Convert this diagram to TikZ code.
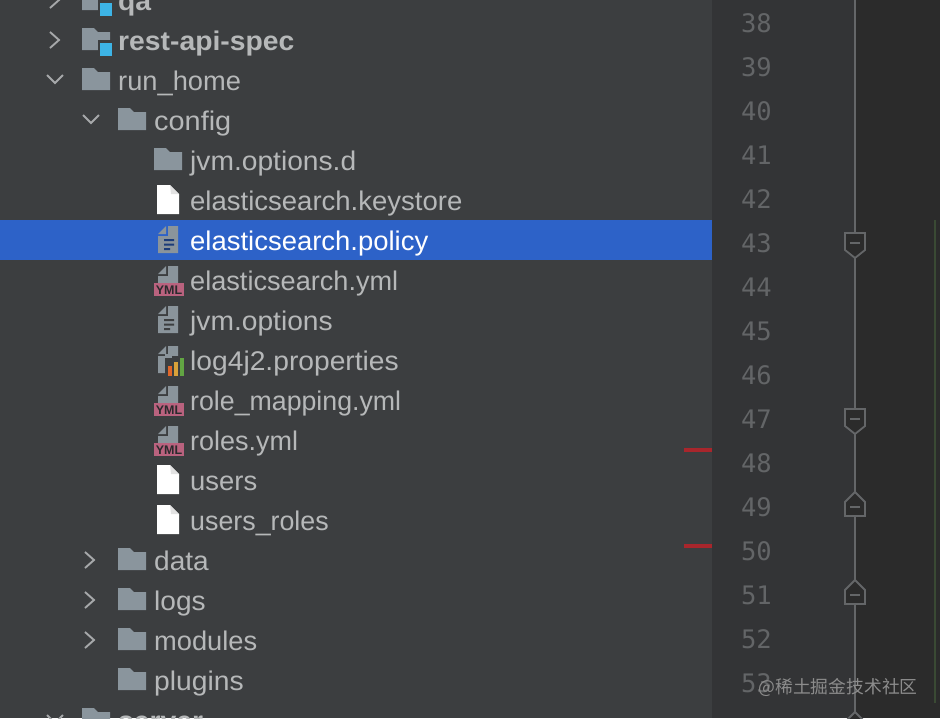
\documentclass[tikz,border=0pt]{standalone}
\usepackage{graphicx}
\usepackage{fontspec}
\setmainfont{Liberation Sans}
\newfontfamily\cjkfont{Noto Sans CJK SC}
\newfontfamily\numfont{DejaVu Sans Mono}
\definecolor{side}{HTML}{3C3E40}
\definecolor{gutter}{HTML}{333436}
\definecolor{editor}{HTML}{2B2B2B}
\definecolor{sel}{HTML}{2D62C8}
\definecolor{txt}{HTML}{B6B8B9}
\definecolor{folder}{HTML}{8A959D}
\definecolor{chev}{HTML}{A6A8AA}
\definecolor{filegr}{HTML}{8A949B}
\definecolor{ymlpink}{HTML}{B9627E}
\definecolor{numc}{HTML}{636567}
\definecolor{foldc}{HTML}{646668}
\definecolor{redm}{HTML}{A8262C}
\definecolor{greenm}{HTML}{3A4A34}
\definecolor{modblue}{HTML}{3DB4E6}
\definecolor{foldw}{HTML}{E2E2E2}
\definecolor{wmc}{HTML}{8C8C8C}
\tikzset{
  x=1pt,y=-1pt,
  rowtext/.style={anchor=base west,inner sep=0pt,text=txt,font=\fontsize{27}{30}\selectfont},
  boldtext/.style={rowtext,font=\fontsize{27}{30}\selectfont\bfseries},
  linenum/.style={anchor=base east,inner sep=0pt,text=numc,font=\fontsize{25.5}{28}\selectfont\numfont},
  chevron/.style={draw=chev,line width=1.9pt,line join=miter,line cap=butt},
  foldline/.style={draw=foldc,line width=2pt},
  foldmark/.style={draw=foldc,line width=1.8pt,fill=editor,line join=miter},
}
\newcommand{\sx}[2]{\scalebox{#1}[1]{#2}}
% #1 = x left, #2 = row centre y
\newcommand{\icofolder}[2]{\fill[folder] (#1,#2-12) -- (#1+12,#2-12) -- (#1+16,#2-8) -- (#1+28,#2-8) -- (#1+28,#2+10) -- (#1,#2+10) -- cycle;}
\newcommand{\icomodule}[2]{\icofolder{#1}{#2}\fill[side] (#1+16,#2+0) rectangle (#1+31,#2+17);\fill[modblue] (#1+18,#2+3) rectangle (#1+30,#2+16);}
\newcommand{\icowhite}[1]{\fill[white] (157,#1-15) -- (170,#1-15) -- (179,#1-6) -- (179,#1+14) -- (157,#1+14) -- cycle;\fill[foldw] (170,#1-15) -- (179,#1-6) -- (171,#1-6) -- cycle;}
\newcommand{\icodoc}[1]{\fill[filegr] (168,#1-14) -- (178,#1-14) -- (178,#1+13) -- (158,#1+13) -- (158,#1-4) -- (168,#1-4) -- cycle;\fill[filegr] (158,#1-6) -- (166,#1-14) -- (166,#1-6) -- cycle;}
\newcommand{\icotextlines}[2]{\fill[#2] (164,#1-1) rectangle (174,#1+1) (164,#1+3.5) rectangle (174,#1+5.5) (164,#1+8) rectangle (170,#1+10);}
\newcommand{\icoyml}[1]{\icodoc{#1}\fill[side] (153,#1+3) rectangle (185,#1+17);\fill[filegr] (158,#1+1) rectangle (178,#1+3);\fill[ymlpink] (154,#1+3) rectangle (184,#1+16);\node[anchor=center,inner sep=0pt,text=side!70!black,font=\fontsize{12.5}{13}\selectfont\bfseries] (yml#1) at (169,#1+9.7) {YML};}
\newcommand{\chevright}[2]{\draw[chevron] (#1,#2-8) -- (#1+9,#2) -- (#1,#2+8);}
\newcommand{\chevdown}[2]{\draw[chevron] (#1,#2-4) -- (#1+8,#2+4) -- (#1+16,#2-4);}
\newcommand{\markdown}[1]{\draw[foldmark] (845,#1) -- (865,#1) -- (865,#1+17) -- (855,#1+25) -- (845,#1+17) -- cycle;\draw[foldline] (850,#1+10) -- (860,#1+10);}
\newcommand{\markup}[1]{\draw[foldmark] (845,#1+24) -- (865,#1+24) -- (865,#1+10) -- (855,#1) -- (845,#1+10) -- cycle;\draw[foldline] (850,#1+15) -- (860,#1+15);}
\begin{document}
\begin{tikzpicture}
\clip (0,0) rectangle (940,718);
% backgrounds
\fill[side] (0,0) rectangle (712,718);
\fill[gutter] (712,0) rectangle (855,718);
\fill[editor] (855,0) rectangle (940,718);
\fill[sel] (0,220) rectangle (712,260);
% red marks and green line
\fill[redm] (684,448) rectangle (712,452);
\fill[redm] (684,544) rectangle (712,548);
\draw[greenm,line width=1.5pt] (935,220) -- (935,703);
% fold line and marks
\coordinate (foldtop) at (855,0);
\coordinate (foldbottom) at (855,718);
\draw[foldline] (foldtop) -- (foldbottom);
\markdown{233}
\markdown{409}
\markup{492}
\markup{580}
\markup{712}
% line numbers
\foreach \n/\y in {38/23,39/67,40/111,41/155,42/199,43/243,44/287,45/331,46/375,47/419,48/463,49/507,50/551,51/595,52/639,53/683}
  \node[linenum] (num\n) at (772,\y+9.5) {\n};
% tree rows
\chevright{50}{0}
\icomodule{82}{0}
\node[boldtext] (qa) at (118,10.5) {\sx{1.048}{qa}};
\chevright{50}{40}
\icomodule{82}{40}
\node[boldtext] (restapi) at (118,50.5) {\sx{1.048}{rest-api-spec}};
\chevdown{47}{79}
\icofolder{82}{80}
\node[rowtext] (runhome) at (118,90.5) {\sx{1.01}{run\_home}};
\chevdown{83}{119}
\icofolder{118}{120}
\node[rowtext] (config) at (154,130.5) {\sx{1.07}{config}};
\icofolder{154}{160}
\node[rowtext] (jvmd) at (190,170.5) {\sx{1.044}{jvm.options.d}};
\icowhite{200}
\node[rowtext] (keystore) at (190,210.5) {\sx{1.019}{elasticsearch.keystore}};
\icodoc{240}\icotextlines{240}{sel!60!black}
\node[rowtext,text=white] (policy) at (190,250.5) {\sx{1.017}{elasticsearch.policy}};
\icoyml{280}
\node[rowtext] (esyml) at (190,290.5) {\sx{1.005}{elasticsearch.yml}};
\icodoc{320}\icotextlines{320}{side}
\node[rowtext] (jvmo) at (190,330.5) {\sx{1.044}{jvm.options}};
\icodoc{360}
\fill[side] (165,356) rectangle (186,376);
\fill[filegr] (158,360) rectangle (165,373);
\fill[filegr] (168,346) rectangle (178,356);
\fill[filegr!100] (165,354) rectangle (172,358);
\definecolor{barO}{HTML}{E0672A}
\definecolor{barY}{HTML}{D9A23A}
\definecolor{barG}{HTML}{62A543}
\fill[barO] (168,366) rectangle (172,376);
\fill[barY] (174,362) rectangle (178,376);
\fill[barG] (180,358) rectangle (184,376);
\node[rowtext] (log) at (190,370.5) {\sx{1.045}{log4j2.properties}};
\icoyml{400}
\node[rowtext] (rolemap) at (190,410.5) {\sx{0.99}{role\_mapping.yml}};
\icoyml{440}
\node[rowtext] (roles) at (190,450.5) {roles.yml};
\icowhite{480}
\node[rowtext] (users) at (190,490.5) {\sx{1.015}{users}};
\icowhite{520}
\node[rowtext] (usersroles) at (190,530.5) {\sx{0.993}{users\_roles}};
\chevright{85}{560}
\icofolder{118}{560}
\node[rowtext] (data) at (154,570.5) {\sx{1.04}{data}};
\chevright{85}{600}
\icofolder{118}{600}
\node[rowtext] (logs) at (154,610.5) {\sx{1.04}{logs}};
\chevright{85}{640}
\icofolder{118}{640}
\node[rowtext] (modules) at (154,650.5) {\sx{1.01}{modules}};
\icofolder{118}{680}
\node[rowtext] (plugins) at (154,690.5) {\sx{1.047}{plugins}};
\chevdown{47}{719}
\icofolder{82}{720}
\node[boldtext] (server) at (118,730.5) {\sx{1.048}{server}};
% watermark
\node[anchor=center,inner sep=0pt,text=wmc,font=\fontsize{17.8}{20}\selectfont\cjkfont] (wm) at (838,687) {@稀土掘金技术社区};
\end{tikzpicture}
\end{document}
